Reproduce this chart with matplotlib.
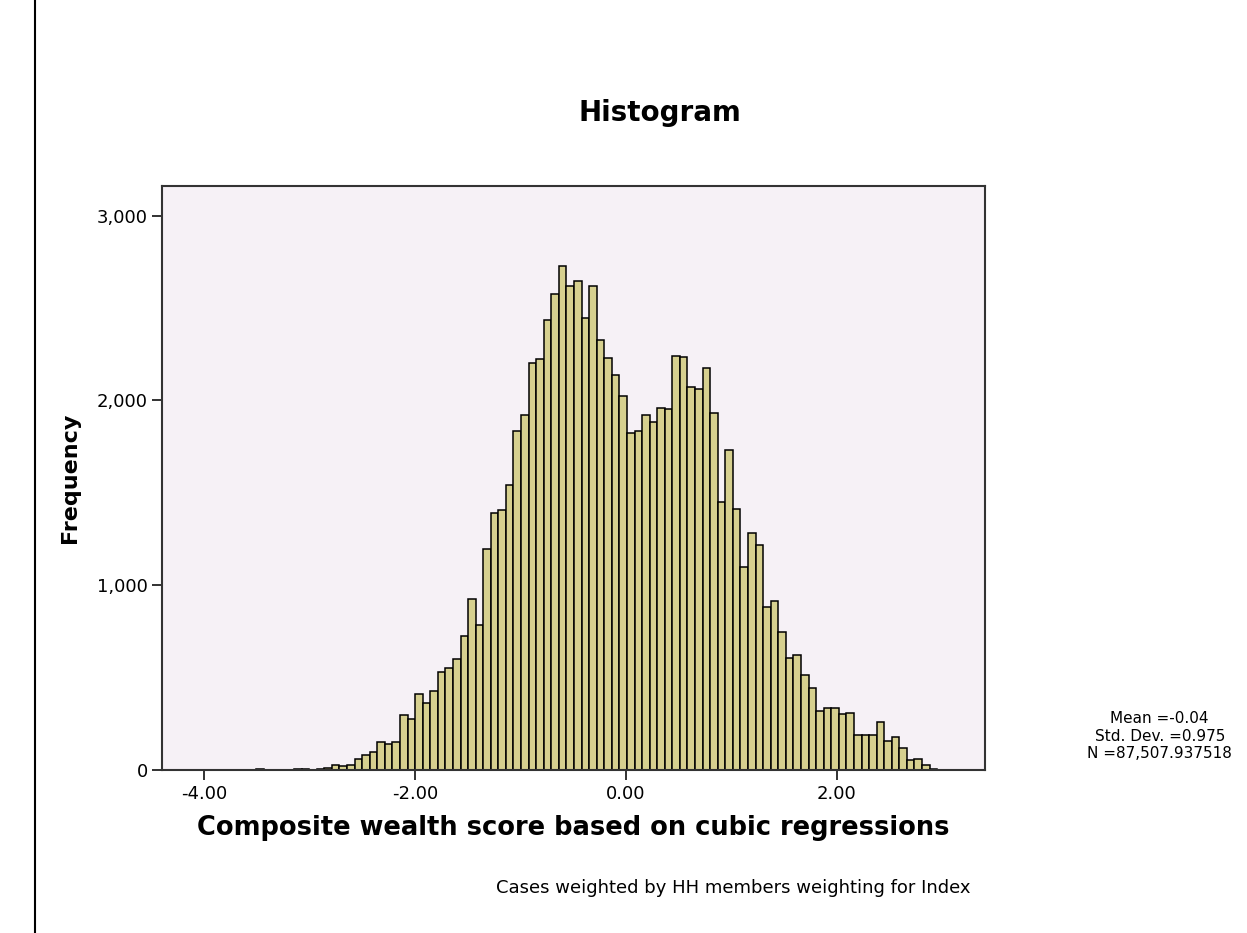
import numpy as np
import matplotlib
matplotlib.use("Agg")
import matplotlib.pyplot as plt
from matplotlib.lines import Line2D
from matplotlib.ticker import FuncFormatter

# Datos del histograma
bin_start = -3.507
bin_width = 0.0718
counts = [4, 0, 0, 0, 0, 3, 3, 0, 6, 9,
          25, 21, 29, 62, 83, 100, 154, 141, 154, 295,
          274, 411, 363, 426, 529, 554, 598, 725, 926, 787,
          1198, 1392, 1409, 1540, 1832, 1921, 2205, 2225, 2433, 2576,
          2727, 2617, 2648, 2445, 2619, 2325, 2227, 2136, 2024, 1823,
          1832, 1923, 1881, 1960, 1952, 2238, 2234, 2072, 2064, 2176,
          1933, 1450, 1730, 1413, 1098, 1281, 1218, 881, 912, 746,
          605, 622, 514, 445, 321, 336, 336, 305, 311, 191,
          191, 191, 259, 155, 180, 118, 52, 62, 25, 4]
x_ticks = [-4, -2, 0, 2]
y_ticks = [0, 1000, 2000, 3000]
stats = ["Mean =-0.04", "Std. Dev. =0.975", "N =87,507.937518"]

plt.rcParams['font.family'] = ['DejaVu Sans']
plt.rcParams['axes.unicode_minus'] = False

fig = plt.figure(figsize=(12.47, 9.33), dpi=100)
ax = fig.add_axes([0.1302, 0.1747, 0.6597, 0.6259])
ax.set_facecolor("#f6f1f6")

left_edges = bin_start + bin_width * np.arange(len(counts))
ax.bar(left_edges, counts, width=bin_width, align="edge",
       color="#d6d08f", edgecolor="black", linewidth=1.1)

ax.set_xlim(-4.398, 3.409)
ax.set_ylim(0, 3160)
ax.set_xticks(x_ticks)
ax.set_yticks(y_ticks)
ax.xaxis.set_major_formatter(FuncFormatter(lambda v, p: "%.2f" % v))
ax.yaxis.set_major_formatter(FuncFormatter(lambda v, p: "{:,.0f}".format(v)))
ax.tick_params(direction="out", length=7, width=1.3, labelsize=13, color="#222222")
for s in ax.spines.values():
    s.set_linewidth(1.5)
    s.set_color("#333333")

ax.set_xlabel("Composite wealth score based on cubic regressions",
              fontsize=18.5, fontweight="bold", labelpad=9)
ax.set_ylabel("Frequency", fontsize=16, fontweight="bold", labelpad=12)

fig.text(0.529, 0.879, "Histogram", ha="center", va="center",
         fontsize=20, fontweight="bold")
fig.text(0.778, 0.048, "Cases weighted by HH members weighting for Index",
         ha="right", va="center", fontsize=13)
fig.text(0.930, 0.211, "\n".join(stats), ha="center", va="center",
         fontsize=11, linespacing=1.2)

# Linea vertical a la izquierda
fig.add_artist(Line2D([0.028, 0.028], [0.0, 1.0], color="black", linewidth=1.5))

fig.savefig("out.png", dpi=100)
